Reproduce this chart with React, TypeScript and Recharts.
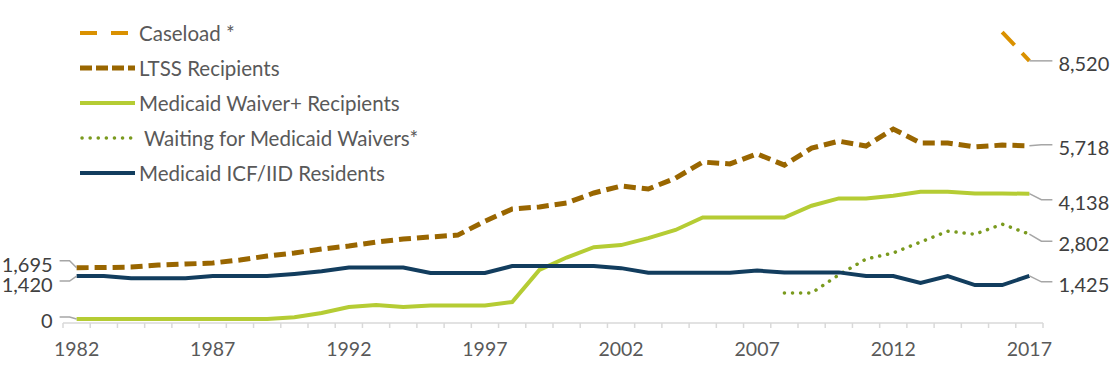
import React from 'react';
import { LineChart, Line, XAxis, YAxis, LabelList, Legend } from 'recharts';

// years on the x axis
const years = [
  1982, 1983, 1984, 1985, 1986, 1987, 1988, 1989, 1990, 1991, 1992, 1993,
  1994, 1995, 1996, 1997, 1998, 1999, 2000, 2001, 2002, 2003, 2004, 2005,
  2006, 2007, 2008, 2009, 2010, 2011, 2012, 2013, 2014, 2015, 2016, 2017,
];

// values
const caseload = [
  null, null, null, null, null, null, null, null, null, null, null, null,
  null, null, null, null, null, null, null, null, null, null, null, null,
  null, null, null, null, null, null, null, null, null, null, 9470, 8520,
];
const ltss = [
  1695, 1700, 1716, 1780, 1815, 1850, 1950, 2080, 2180, 2310, 2410, 2540,
  2640, 2710, 2770, 3230, 3630, 3700, 3830, 4160, 4390, 4290, 4650, 5180,
  5120, 5450, 5080, 5640, 5870, 5710, 6270, 5810, 5810, 5680, 5740, 5718,
];
const waiver = [
  0, 0, 0, 0, 0, 0, 0, 0, 60, 200, 400, 460,
  400, 450, 450, 450, 560, 1620, 2030, 2370, 2440, 2670, 2940, 3350,
  3350, 3350, 3350, 3740, 3980, 3980, 4070, 4200, 4200, 4140, 4140, 4138,
];
const waiting = [
  null, null, null, null, null, null, null, null, null, null, null, null,
  null, null, null, null, null, null, null, null, null, null, null, null,
  null, null, 860, 860, 1460, 1980, 2180, 2540, 2900, 2800, 3130, 2802,
];
const icf = [
  1420, 1420, 1350, 1350, 1350, 1420, 1420, 1420, 1490, 1580, 1700, 1700,
  1700, 1520, 1520, 1520, 1750, 1750, 1750, 1750, 1680, 1530, 1530, 1530,
  1530, 1600, 1540, 1540, 1540, 1420, 1420, 1190, 1420, 1120, 1120, 1425,
];

const labelYears = [1982, 1987, 1992, 1997, 2002, 2007, 2012, 2017];
const tickMarks = [...years.map((y) => y - 0.5), 2017.5];

const data = years.map((year, i) => ({
  year,
  caseload: caseload[i],
  ltss: ltss[i],
  waiver: waiver[i],
  waiting: waiting[i],
  icf: icf[i],
}));

const FONT = 'Lato, "Open Sans", sans-serif';
const LEADER = '#a6a6a6';

type Cfg = {
  key: string;
  name: string;
  color: string;
  width: number;
  dash?: string;
  cap?: 'butt' | 'round';
  leftDy?: number;
  rightDy: number;
};

const series: Cfg[] = [
  { key: 'caseload', name: 'Caseload *', color: '#DA9100', width: 4, dash: '18 11', rightDy: 0 },
  { key: 'ltss', name: 'LTSS Recipients', color: '#996600', width: 5, dash: '12 6', leftDy: -7, rightDy: -1 },
  { key: 'waiver', name: 'Medicaid Waiver+ Recipients', color: '#B5CC34', width: 4, leftDy: -2, rightDy: 6 },
  { key: 'waiting', name: ' Waiting for Medicaid Waivers*', color: '#7A9A1E', width: 3.5, dash: '0.1 8', cap: 'round', rightDy: 7 },
  { key: 'icf', name: 'Medicaid ICF/IID Residents', color: '#123D5E', width: 4, leftDy: 5, rightDy: 6 },
];

const fmt = (v: number) => v.toLocaleString('en-US');

// data labels with leader lines at the start and end of each series
const makeLabel = (cfg: Cfg) => (props: any) => {
  const { index, value } = props;
  const x = props.x ?? props.viewBox?.x;
  const y = props.y ?? props.viewBox?.y;
  if (value == null || x == null || y == null) return null;
  if (index === 0 && cfg.leftDy != null) {
    const ly = y + cfg.leftDy;
    return (
      <g>
        <polyline points={`${x},${y} ${x - 7},${ly} ${x - 17},${ly}`} fill="none" stroke={LEADER} strokeWidth={1.5} />
        <text x={x - 24} y={ly + 3} textAnchor="end" dominantBaseline="central" fill="#404040" fontSize={20} fontFamily={FONT}>
          {fmt(value)}
        </text>
      </g>
    );
  }
  if (index === years.length - 1) {
    const ly = y + cfg.rightDy;
    return (
      <g>
        <polyline points={`${x},${y} ${x + 12},${ly} ${x + 23},${ly}`} fill="none" stroke={LEADER} strokeWidth={1.5} />
        <text x={x + 29} y={ly + 2} textAnchor="start" dominantBaseline="central" fill="#404040" fontSize={20} fontFamily={FONT}>
          {fmt(value)}
        </text>
      </g>
    );
  }
  return null;
};

const XTick = (props: any) => {
  const { x, y, payload } = props;
  const v = payload.value;
  if (v % 1 !== 0) {
    return <line x1={x} x2={x} y1={y - 5} y2={y} stroke="#d9d9d9" strokeWidth={1.5} />;
  }
  return (
    <text x={x} y={y + 20} textAnchor="middle" dominantBaseline="central" fill="#595959" fontSize={19.5} fontFamily={FONT}>
      {v}
    </text>
  );
};

const LegendBox = () => (
  <svg width={480} height={200} style={{ display: 'block' }}>
    {series.map((s, i) => {
      const cy = 33 + i * 35;
      const dash = s.key === 'caseload' ? '17 14' : s.key === 'ltss' ? '12 4' : s.dash;
      return (
        <g key={s.key}>
          <line
            x1={s.key === 'waiting' ? 82 : 80}
            x2={135}
            y1={cy}
            y2={cy}
            stroke={s.color}
            strokeWidth={s.width}
            strokeDasharray={dash}
            strokeLinecap={s.cap ?? 'butt'}
          />
          <text x={139} y={cy} dominantBaseline="central" fill="#595959" fontSize={20.5} fontFamily={FONT} style={{ whiteSpace: 'pre' }}>
            {s.name}
          </text>
        </g>
      );
    })}
  </svg>
);

export default function App() {
  return (
    <div style={{ position: 'absolute', left: 0, top: 0, width: 1112, height: 365, background: '#fff' }}>
      <LineChart width={1112} height={365} data={data} margin={{ top: 16, right: 69, left: 63, bottom: 12 }}>
        <XAxis
          dataKey="year"
          type="number"
          domain={[1981.5, 2017.5]}
          allowDataOverflow
          ticks={[...tickMarks, ...labelYears]}
          interval={0}
          tick={<XTick />}
          tickLine={false}
          tickSize={5}
          tickMargin={0}
          height={30}
          axisLine={{ stroke: '#d9d9d9', strokeWidth: 1.5 }}
        />
        <YAxis hide width={0} domain={[-130, 10000]} allowDataOverflow />
        <Legend
          layout="vertical"
          align="center"
          verticalAlign="middle"
          content={() => <LegendBox />}
          wrapperStyle={{ position: 'absolute', left: 0, top: 0, width: 480, height: 200 }}
        />
        {series.map((s) => (
          <Line
            key={s.key}
            dataKey={s.key}
            name={s.name}
            type="linear"
            stroke={s.color}
            strokeWidth={s.width}
            strokeDasharray={s.dash}
            strokeLinecap={s.cap ?? 'butt'}
            dot={false}
            activeDot={false}
            isAnimationActive={false}
          >
            <LabelList dataKey={s.key} content={makeLabel(s)} />
          </Line>
        ))}
      </LineChart>
    </div>
  );
}
